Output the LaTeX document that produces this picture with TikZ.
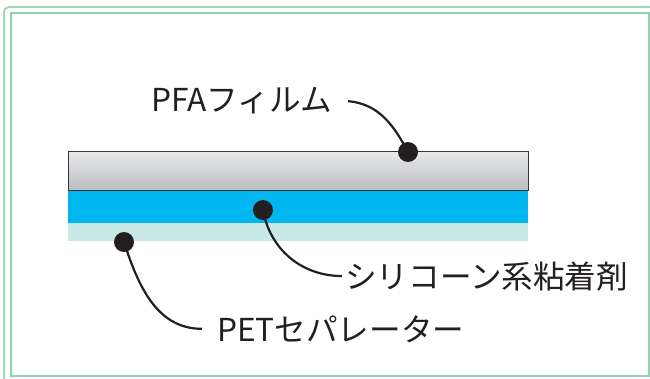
\documentclass[tikz,border=0pt]{standalone}
\usepackage{fontspec}
\setmainfont{Noto Sans CJK JP}
\definecolor{framegreen}{HTML}{8ED2B0}
\definecolor{inkblack}{HTML}{231F20}
\definecolor{glueblue}{HTML}{00B6EE}
\definecolor{linercyan}{HTML}{C8E8E6}
\definecolor{filmtop}{HTML}{E8E9EB}
\definecolor{filmbottom}{HTML}{BCBDC0}
\tikzset{
  callout/.style={inner sep=0pt, font=\fontsize{31.6}{32}\selectfont, text=inkblack},
  pindot/.style={circle, fill=inkblack, minimum size=20pt, inner sep=0pt},
  leader/.style={inkblack, line width=2.2pt},
}
\begin{document}
\begin{tikzpicture}[x=1pt,y=1pt]
\useasboundingbox (0,0) rectangle (650,378);
% frame
\draw[framegreen!85, line width=2pt, rounded corners=5pt] (4,371) rectangle (662,-14);
\draw[framegreen, line width=2pt] (11,365) rectangle (649,2);
% layers
\shade[top color=filmtop, bottom color=filmbottom] (68,226) rectangle (528,188);
\fill[glueblue] (68,188) rectangle (528,155);
\fill[linercyan] (68,155) rectangle (528,137);
\draw[inkblack!90, line width=1pt] (68,226) rectangle (528,188);
% dots
\node[pindot] (dotfilm) at (408,226) {};
\node[pindot] (dotglue) at (263,168) {};
\node[pindot] (dotliner) at (124,136) {};
% labels
\node[callout, anchor=base east] (pfa) at (332,266) {PFAフィルム};
\node[callout, anchor=base west] (glue) at (345,90) {シリコーン系粘着剤};
\node[callout, anchor=base west] (pet) at (217,37) {PETセパレーター};
% leaders
\draw[leader] ([xshift=16pt]pfa.east) to[out=-5, in=118] (dotfilm.center);
\draw[leader] (dotglue.center) to[out=-80, in=180] ([xshift=-3pt]glue.west);
\draw[leader] (dotliner.center) to[out=-72, in=180] ([xshift=-15pt]pet.west);
\end{tikzpicture}
\end{document}
